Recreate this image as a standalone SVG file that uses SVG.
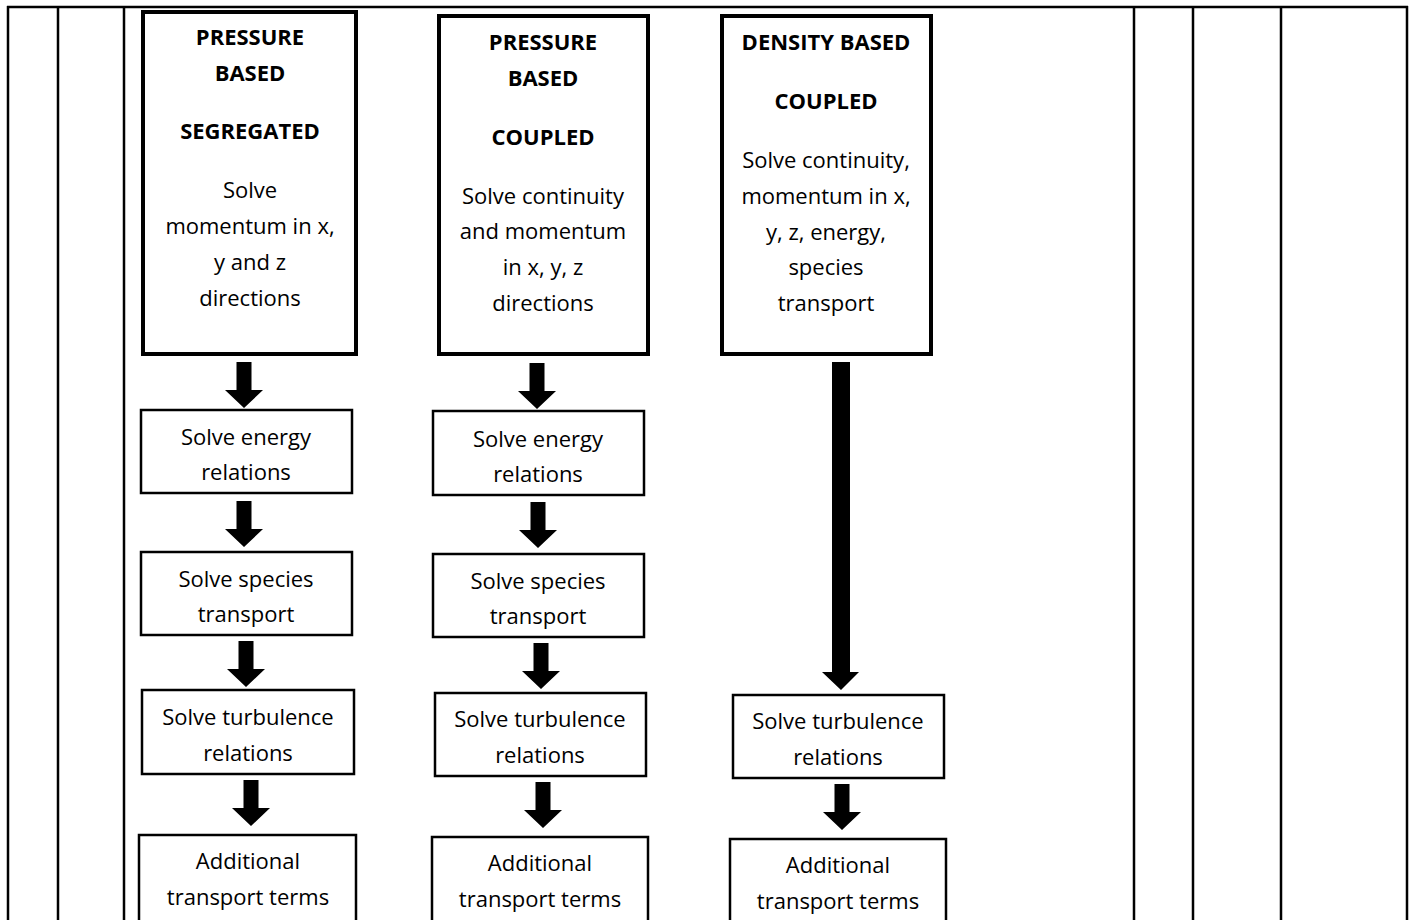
<svg xmlns="http://www.w3.org/2000/svg" xmlns:xlink="http://www.w3.org/1999/xlink" width="1415" height="920" viewBox="0 0 1415 920">
<style>
.grid{stroke:#000;stroke-width:2.5;fill:none}
.big{fill:#fff;stroke:#000;stroke-width:4}
.box{fill:#fff;stroke:#000;stroke-width:2.5}
.t{font-family:"Open Sans","Liberation Sans",sans-serif;font-size:22px;fill:#000;text-anchor:middle}
.b{font-weight:bold}
.arr{fill:#000}
</style>
<defs>
<path id="arrow" d="M-7.5,-46 h15 v28 h11.5 L0,0 L-19,-18 h11.5 z"/>
</defs>
<rect width="1415" height="920" fill="#fff"/>
<g id="table" class="grid">
<line x1="7" y1="7" x2="1408" y2="7"/>
<line x1="8" y1="6" x2="8" y2="920"/>
<line x1="58" y1="6" x2="58" y2="920"/>
<line x1="124" y1="6" x2="124" y2="920"/>
<line x1="1134" y1="6" x2="1134" y2="920"/>
<line x1="1193" y1="6" x2="1193" y2="920"/>
<line x1="1281" y1="6" x2="1281" y2="920"/>
<line x1="1407" y1="6" x2="1407" y2="920"/>
</g>
<g id="connectors" class="arr">
<use xlink:href="#arrow" x="244" y="408"/>
<use xlink:href="#arrow" x="244" y="547"/>
<use xlink:href="#arrow" x="246" y="687"/>
<use xlink:href="#arrow" x="251" y="826"/>
<use xlink:href="#arrow" x="537" y="409"/>
<use xlink:href="#arrow" x="538" y="548"/>
<use xlink:href="#arrow" x="541" y="689"/>
<use xlink:href="#arrow" x="543" y="828"/>
<path d="M832,362 h18 v310 h9 L841,690 L822,672 h10 z"/>
<use xlink:href="#arrow" x="842" y="830"/>
</g>
<g id="pb-segregated">
<rect class="big" x="143" y="12" width="213" height="342"/>
<text class="t b" x="250" y="45">PRESSURE</text>
<text class="t b" x="250" y="81">BASED</text>
<text class="t b" x="250" y="139">SEGREGATED</text>
<text class="t" x="250" y="198">Solve</text>
<text class="t" x="250" y="234">momentum in x,</text>
<text class="t" x="250" y="270">y and z</text>
<text class="t" x="250" y="306">directions</text>
</g>
<g id="pb-coupled">
<rect class="big" x="439" y="16" width="209" height="338"/>
<text class="t b" x="543" y="50">PRESSURE</text>
<text class="t b" x="543" y="86">BASED</text>
<text class="t b" x="543" y="145">COUPLED</text>
<text class="t" x="543" y="204">Solve continuity</text>
<text class="t" x="543" y="239">and momentum</text>
<text class="t" x="543" y="275">in x, y, z</text>
<text class="t" x="543" y="311">directions</text>
</g>
<g id="db-coupled">
<rect class="big" x="722" y="16" width="209" height="338"/>
<text class="t b" x="826" y="50">DENSITY BASED</text>
<text class="t b" x="826" y="109">COUPLED</text>
<text class="t" x="826" y="168">Solve continuity,</text>
<text class="t" x="826" y="204">momentum in x,</text>
<text class="t" x="826" y="240">y, z, energy,</text>
<text class="t" x="826" y="275">species</text>
<text class="t" x="826" y="311">transport</text>
</g>
<g id="c1-energy">
<rect class="box" x="141" y="410" width="211" height="83"/>
<text class="t" x="246" y="445">Solve energy</text>
<text class="t" x="246" y="480">relations</text>
</g>
<g id="c1-species">
<rect class="box" x="141" y="552" width="211" height="83"/>
<text class="t" x="246" y="587">Solve species</text>
<text class="t" x="246" y="622">transport</text>
</g>
<g id="c1-turbulence">
<rect class="box" x="142" y="690" width="212" height="84"/>
<text class="t" x="248" y="725">Solve turbulence</text>
<text class="t" x="248" y="761">relations</text>
</g>
<g id="c1-additional">
<rect class="box" x="139" y="835" width="217" height="90"/>
<text class="t" x="248" y="869">Additional</text>
<text class="t" x="248" y="905">transport terms</text>
</g>
<g id="c2-energy">
<rect class="box" x="433" y="411" width="211" height="84"/>
<text class="t" x="538" y="447">Solve energy</text>
<text class="t" x="538" y="482">relations</text>
</g>
<g id="c2-species">
<rect class="box" x="433" y="554" width="211" height="83"/>
<text class="t" x="538" y="589">Solve species</text>
<text class="t" x="538" y="624">transport</text>
</g>
<g id="c2-turbulence">
<rect class="box" x="435" y="693" width="211" height="83"/>
<text class="t" x="540" y="727">Solve turbulence</text>
<text class="t" x="540" y="763">relations</text>
</g>
<g id="c2-additional">
<rect class="box" x="432" y="837" width="216" height="90"/>
<text class="t" x="540" y="871">Additional</text>
<text class="t" x="540" y="907">transport terms</text>
</g>
<g id="c3-turbulence">
<rect class="box" x="733" y="695" width="211" height="83"/>
<text class="t" x="838" y="729">Solve turbulence</text>
<text class="t" x="838" y="765">relations</text>
</g>
<g id="c3-additional">
<rect class="box" x="730" y="839" width="216" height="90"/>
<text class="t" x="838" y="873">Additional</text>
<text class="t" x="838" y="909">transport terms</text>
</g>
</svg>
